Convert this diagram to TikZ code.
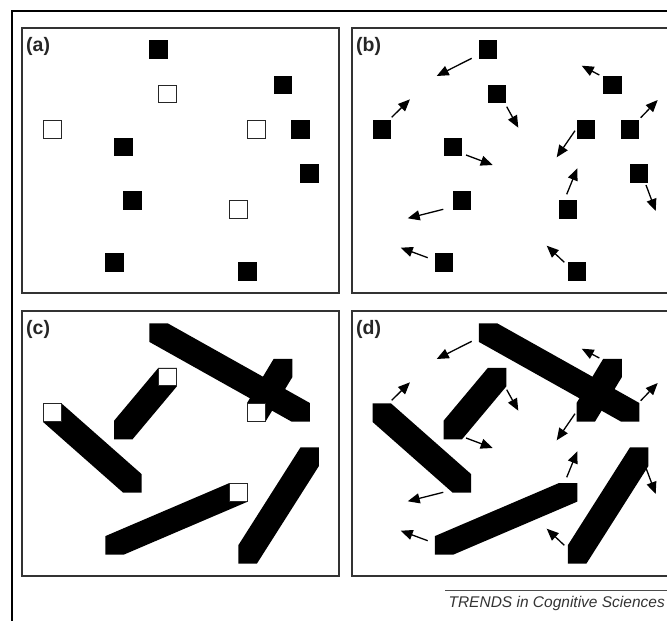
\documentclass[tikz,border=0pt]{standalone}
\usepackage{fontspec}
\setsansfont{Liberation Sans}
\usetikzlibrary{arrows.meta}

% square centres, motion arrows (frame of panel a)
\def\fullsq{1/158.7/49.7, 3/283/85, 5/123.3/147, 7/300.7/129.3, 8/309.7/173.7, 9/132.3/200.3, 11/114.7/262.3, 12/247.7/271.3}
\def\emptysq{2/167.7/94, 4/52.3/129.7, 6/256.3/129.3, 10/238.7/209.3}
\def\arrowlist{1/142.2/58.3/107.2/76, 2/177.2/106.7/188.8/127.7, 3/269.8/75/252.2/65.7,
  4/62.2/117.3/80.5/99.3, 5/245.5/130.7/227.2/157.3, 6/311.2/117.7/328.2/100,
  7/136.5/155/163.2/165, 8/316.5/185/326.2/211, 9/113.8/209.3/78.2/218.3,
  10/237.2/194.3/247.8/168.3, 11/98.2/257.7/71.2/247.7, 12/234.8/262.3/217.2/245.7}

\begin{document}
\begin{tikzpicture}[x=1pt, y=-1pt,
    panel/.style={draw=black!80, line width=1.1pt},
    tag/.style={anchor=north west, inner sep=0pt, font=\sffamily\bfseries\fontsize{19.5}{19.5}\selectfont, text=black!85},
    dot/.style={fill=black, minimum size=18.5pt, inner sep=0pt, outer sep=0pt},
    hole/.style={dot, draw=black!85, fill=white, line width=0.8pt, minimum size=17.7pt},
    motion/.style={-{Triangle[length=12pt, width=10pt]}, line width=1.3pt},
    streak/.style={fill=black}
]
\useasboundingbox (0,0) rectangle (667,621);
\clip (0,0) rectangle (667,621);

% outer frame and the four panels
\draw[line width=2pt] (12,625) |- (670,11);
\draw[panel] (22,28) rectangle (339,293);
\draw[panel] (352,28) rectangle (672,293);
\draw[panel] (22,311) rectangle (339,576);
\draw[panel] (352,311) rectangle (672,576);

\node[tag] (tagA) at (26,37) {(a)};
\node[tag] (tagB) at (356,37) {(b)};
\node[tag] (tagC) at (26,320) {(c)};
\node[tag] (tagD) at (356,320) {(d)};

% (a) squares
\foreach \n/\x/\y in \fullsq
  \node[dot] (a\n) at (\x,\y) {};
\foreach \n/\x/\y in \emptysq
  \node[hole] (a\n) at (\x,\y) {};

% (b) squares
\begin{scope}[shift={(329.5,0)}]
  \foreach \n/\x/\y in \fullsq
    \node[dot] (b\n) at (\x,\y) {};
  \foreach \n/\x/\y in \emptysq
    \node[dot] (b\n) at (\x,\y) {};
\end{scope}

% streaks in (c) and (d)
\def\h{9.25}
\foreach \p/\dx/\dy in {c/0/283, d/329.5/283}{
  \begin{scope}[shift={(\dx,\dy)}]
    % moving down-right
    \foreach \px/\py/\qx/\qy in {52.3/129.7/132.3/200.3, 158.7/49.7/300.7/129.3}
      \fill[streak] ([shift={(-\h,-\h)}]\px,\py) -- ([shift={(\h,-\h)}]\px,\py)
        -- ([shift={(\h,-\h)}]\qx,\qy) -- ([shift={(\h,\h)}]\qx,\qy)
        -- ([shift={(-\h,\h)}]\qx,\qy) -- ([shift={(-\h,\h)}]\px,\py) -- cycle;
    % moving up-right
    \foreach \px/\py/\qx/\qy in {123.3/147/167.7/94, 256.3/129.3/283/85, 114.7/262.3/238.7/209.3, 247.7/271.3/309.7/173.7}
      \fill[streak] ([shift={(-\h,-\h)}]\px,\py) -- ([shift={(-\h,-\h)}]\qx,\qy)
        -- ([shift={(\h,-\h)}]\qx,\qy) -- ([shift={(\h,\h)}]\qx,\qy)
        -- ([shift={(\h,\h)}]\px,\py) -- ([shift={(-\h,\h)}]\px,\py) -- cycle;
  \end{scope}
}

% start squares on top of the streaks in (c)
\begin{scope}[shift={(0,283)}]
  \foreach \n/\x/\y in \emptysq
    \node[hole] (c\n) at (\x,\y) {};
\end{scope}

% motion arrows in (b) and (d)
\foreach \p/\dx/\dy in {b/329.5/0, d/329.5/283}{
  \begin{scope}[shift={(\dx,\dy)}]
    \foreach \i/\sx/\sy/\ex/\ey in \arrowlist{
      \coordinate (\p s\i) at (\sx,\sy);
      \coordinate (\p e\i) at (\ex,\ey);
      \draw[motion] (\p s\i) -- (\p e\i);
    }
  \end{scope}
}

% credit line
\node[anchor=base east, inner sep=0pt, font=\sffamily\itshape\fontsize{15.5}{15.5}\selectfont, text=black!80] (credit) at (665,607) {TRENDS in Cognitive Sciences};
\draw[black!70, line width=0.8pt] (445,590) -- (667,590);
\end{tikzpicture}
\end{document}
